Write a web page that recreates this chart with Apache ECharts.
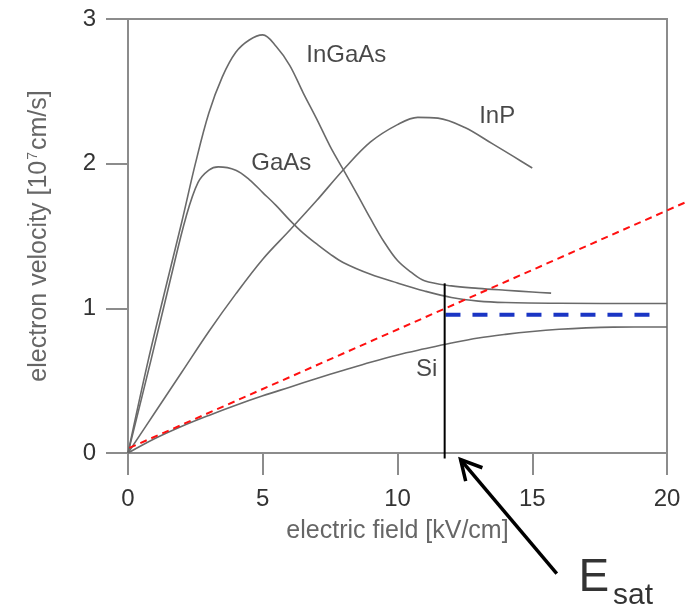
<!DOCTYPE html>
<html>
<head>
<meta charset="utf-8">
<script src="https://cdn.jsdelivr.net/npm/echarts@6/dist/echarts.min.js"></script>
<style>
  html, body { margin: 0; padding: 0; background: #fff; }
  #chart { width: 691px; height: 607px; }
</style>
</head>
<body>
<div id="chart"></div>
<script>
// curves: field [kV/cm] and velocity [1e7 cm/s]
const inGaAsE = [0, 0.75, 1.5, 2, 2.5, 3, 3.5, 4, 4.5, 5, 5.5, 6, 6.5, 7, 7.5, 8, 8.5, 9, 9.5, 10, 10.5, 11, 12, 13, 14, 15, 15.7];
const inGaAsV = [0, 0.64, 1.22, 1.6, 2.0, 2.35, 2.6, 2.77, 2.855, 2.89, 2.81, 2.68, 2.49, 2.31, 2.12, 1.955, 1.79, 1.62, 1.46, 1.33, 1.25, 1.19, 1.155, 1.138, 1.125, 1.113, 1.105];

const gaAsE = [0, 0.85, 1.6, 2.15, 2.6, 3, 3.35, 4, 4.5, 5, 5.5, 6, 6.5, 7, 7.5, 8, 9, 10, 11, 12, 13, 14, 16, 20];
const gaAsV = [0, 0.64, 1.22, 1.63, 1.87, 1.955, 1.978, 1.955, 1.89, 1.8, 1.71, 1.61, 1.52, 1.445, 1.375, 1.315, 1.235, 1.175, 1.12, 1.075, 1.05, 1.04, 1.035, 1.033];

const inPE = [0, 1, 2, 3, 4, 5, 6, 7, 8, 9, 10, 10.75, 11.5, 12.5, 13.5, 14.3, 15];
const inPV = [0, 0.28, 0.56, 0.84, 1.1, 1.34, 1.54, 1.745, 1.96, 2.15, 2.27, 2.32, 2.315, 2.25, 2.14, 2.05, 1.97];

const siE = [0, 1, 2, 3, 4, 5, 6, 7, 8, 9, 10, 11, 12, 13, 14, 15, 16, 17, 18, 20];
const siV = [0, 0.1, 0.185, 0.26, 0.33, 0.395, 0.455, 0.515, 0.572, 0.628, 0.678, 0.72, 0.76, 0.795, 0.82, 0.84, 0.855, 0.865, 0.87, 0.871];

// annotations
const redLine = [[0.05, 0.035], [20.65, 1.73]];
const esatLine = [[11.75, -0.038], [11.75, 1.173]];
const vsatLine = [[11.78, 0.956], [19.63, 0.956]];
const arrowShaft = [[15.91, -0.834], [12.34, -0.045]];
const arrowHead = [[12.53, -0.195], [12.34, -0.045], [13.15, -0.102]];

const curveNames = ['InGaAs', 'GaAs', 'InP', 'Si'];
const curveLabelAt = [[8.1, 2.75], [5.69, 2.0], [13.7, 2.33], [11.08, 0.578]];

const xTicks = { min: 0, max: 20, interval: 5 };
const yTicks = { min: 0, max: 3, interval: 1 };

const zip = (a, b) => a.map((v, i) => [v, b[i]]);

const axisGray = '#8c8c8c';
const curveGray = '#6a6a6a';

function curve(name, e, v) {
  return {
    name: name,
    type: 'line',
    data: zip(e, v),
    symbol: 'none',
    smooth: 0.35,
    lineStyle: { color: curveGray, width: 1.6 },
  };
}

function segment(data, style) {
  return {
    type: 'line',
    data: data,
    symbol: 'none',
    clip: false,
    lineStyle: style,
    z: 5,
  };
}

const chart = echarts.init(document.getElementById('chart'));
chart.setOption({
  animation: false,
  grid: {
    left: 128,
    right: 24,
    top: 19,
    bottom: 154,
    show: true,
    borderColor: axisGray,
    borderWidth: 2,
  },
  xAxis: {
    type: 'value',
    min: xTicks.min,
    max: xTicks.max,
    interval: xTicks.interval,
    axisLine: { lineStyle: { color: axisGray, width: 2 } },
    axisTick: { length: 22, lineStyle: { color: axisGray, width: 2 } },
    axisLabel: { margin: 34, fontSize: 24, color: '#333', fontFamily: 'Liberation Sans' },
    splitLine: { show: false },
    name: 'electric field [kV/cm]',
    nameLocation: 'middle',
    nameGap: 66,
    nameTextStyle: { fontSize: 25, color: '#666', fontFamily: 'Liberation Sans' },
  },
  yAxis: {
    type: 'value',
    min: yTicks.min,
    max: yTicks.max,
    interval: yTicks.interval,
    axisLine: { show: true, lineStyle: { color: axisGray, width: 2 } },
    axisTick: { show: true, length: 22, lineStyle: { color: axisGray, width: 2 } },
    axisLabel: { margin: 32, fontSize: 24, color: '#333', fontFamily: 'Liberation Sans' },
    splitLine: { show: false },
    name: '{t|electron velocity [10}{s|7}{t|cm/s]}',
    nameLocation: 'middle',
    nameGap: 76,
    nameTextStyle: {
      rich: {
        t: { fontSize: 25, color: '#666', fontFamily: 'Liberation Sans' },
        s: { fontSize: 14, color: '#666', fontFamily: 'Liberation Sans', verticalAlign: 'top', padding: [0, 2, 12, 1] },
      },
    },
  },
  series: [
    curve('InGaAs', inGaAsE, inGaAsV),
    curve('GaAs', gaAsE, gaAsV),
    curve('InP', inPE, inPV),
    curve('Si', siE, siV),
    {
      // the slope line runs past the frame, so it is drawn as a lines series
      type: 'lines',
      coordinateSystem: 'cartesian2d',
      clip: false,
      polyline: false,
      data: [{ coords: redLine }],
      lineStyle: { color: '#ff1010', width: 2, type: [7, 5], opacity: 1 },
      z: 5,
    },
    segment(vsatLine, { color: '#1a35c4', width: 4, type: [15, 12] }),
    segment(esatLine, { color: '#000', width: 2 }),
    segment(arrowShaft, { color: '#000', width: 3.5 }),
    segment(arrowHead, { color: '#000', width: 3.5, join: 'miter' }),
    {
      type: 'scatter',
      symbolSize: 1,
      itemStyle: { color: 'transparent' },
      data: curveNames.map((n, i) => [curveLabelAt[i][0], curveLabelAt[i][1], n]),
      label: {
        show: true,
        position: 'inside',
        formatter: p => p.value[2],
        fontSize: 24,
        color: '#1a1a1a',
        fontFamily: 'Liberation Sans',
      },
      z: 6,
    },
    {
      type: 'scatter',
      symbolSize: 1,
      clip: false,
      itemStyle: { color: 'transparent' },
      data: [[17.29, -0.868, 'E'], [18.74, -0.985, 'sat']],
      label: {
        show: true,
        position: 'inside',
        formatter: p => p.value[2],
        color: '#000',
        fontFamily: 'Liberation Sans',
      },
      labelLayout: p => ({ fontSize: p.dataIndex === 0 ? 46 : 30 }),
      z: 6,
    },
  ],
});
</script>
</body>
</html>
